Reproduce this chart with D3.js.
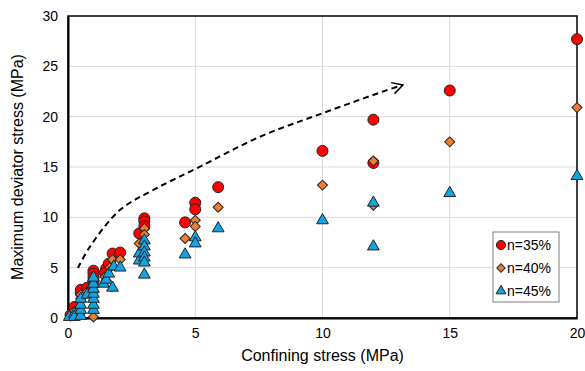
<!DOCTYPE html>
<html>
<head>
<meta charset="utf-8">
<script src="https://cdn.jsdelivr.net/npm/d3@7"></script>
<style>
  body { margin: 0; background: #fff; }
  svg { display: block; font-family: "Liberation Sans", Arial, sans-serif; }
</style>
</head>
<body>
<div id="chart"></div>
<script>
// confining stress (MPa), maximum deviator stress (MPa)
const n35 = [
  [0.1, 0.3], [0.25, 0.9], [0.25, 1.1], [0.5, 2.5], [0.5, 2.8], [0.75, 3.0],
  [1, 4.7], [1, 4.4], [1, 4.0], [1, 3.6], [1.5, 4.9], [1.45, 4.5], [1.6, 5.4],
  [1.75, 6.4], [2.05, 6.5], [2.8, 8.4], [3, 9.9], [3, 9.6], [3, 9.1],
  [4.6, 9.5], [5, 11.45], [5, 10.8], [5.9, 13.0], [10, 16.6], [12, 19.7],
  [12, 15.4], [15, 22.6], [20, 27.7]
];
const n40 = [
  [0.1, 0.2], [0.25, 0.7], [0.5, 0.5], [0.5, 1.9], [0.5, 2.3], [0.75, 2.6],
  [1, 0.1], [1, 3.8], [1, 3.2], [1, 2.6], [1.45, 4.1], [1.5, 3.7], [1.75, 5.8],
  [1.65, 5.0], [2.05, 5.8], [2.8, 7.4], [3, 8.9], [3, 8.3], [3, 7.5],
  [4.6, 7.9], [5, 9.7], [5, 9.1], [5.9, 11.0], [10, 13.2], [12, 15.6],
  [12, 11.2], [15, 17.5], [20, 20.9]
];
const n45 = [
  [0.05, 0.1], [0.25, 0.4], [0.25, 0.1], [0.5, 0.2], [0.5, 0.8], [0.5, 1.3],
  [0.5, 1.9], [0.75, 2.3], [1, 0.8], [1, 1.3], [1, 1.9], [1, 2.4], [1, 2.9],
  [1, 3.4], [1, 4.0], [1.4, 3.4], [1.5, 3.8], [1.6, 4.4], [1.75, 3.0],
  [1.8, 5.1], [2.05, 5.0], [2.8, 5.7], [2.8, 6.4], [3, 7.7], [3, 7.1],
  [3, 6.5], [3, 6.0], [3, 5.5], [3, 4.3], [4.6, 6.3], [5, 8.0], [5, 7.4],
  [5.9, 8.9], [10, 9.7], [12, 11.45], [12, 7.1], [15, 12.4], [20, 14.1]
];
const seriesNames = ['n=35%', 'n=40%', 'n=45%'];
const xTicks = [0, 5, 10, 15, 20];
const yTicks = [0, 5, 10, 15, 20, 25, 30];
// trend arrow (dashed), in data units
const trend = [
  [0.39, 4.97], [0.86, 7.08], [2.04, 10.72], [3.34, 12.71], [5.06, 14.87],
  [7.54, 18.0], [10.02, 20.36], [12.77, 22.84], [13.16, 23.14]
];

const W = 585, H = 371;
const m = { left: 68, right: 8, top: 16, bottom: 53 };

const svg = d3.select('#chart').append('svg')
  .attr('width', W)
  .attr('height', H);

const x = d3.scaleLinear().domain([0, 20]).range([m.left, W - m.right]);
const y = d3.scaleLinear().domain([0, 30]).range([H - m.bottom, m.top]);

// grid
svg.append('g')
  .selectAll('line.vg')
  .data(xTicks.slice(1, -1))
  .enter().append('line')
  .attr('x1', d => x(d)).attr('x2', d => x(d))
  .attr('y1', y(0)).attr('y2', y(30))
  .attr('stroke', '#d9d9d9').attr('stroke-width', 1);

svg.append('g')
  .selectAll('line.hg')
  .data(yTicks.slice(1, -1))
  .enter().append('line')
  .attr('x1', x(0)).attr('x2', x(20))
  .attr('y1', d => y(d)).attr('y2', d => y(d))
  .attr('stroke', '#d9d9d9').attr('stroke-width', 1);

// frame
svg.append('rect')
  .attr('x', x(0)).attr('y', y(30))
  .attr('width', x(20) - x(0)).attr('height', y(0) - y(30))
  .attr('fill', 'none').attr('stroke', '#000').attr('stroke-width', 1.5);

// axes (labels only, no ticks)
const xAxis = svg.append('g')
  .attr('transform', `translate(0,${y(0)})`)
  .call(d3.axisBottom(x).tickValues(xTicks).tickSize(0).tickPadding(10));
xAxis.select('.domain').attr('stroke', '#000').attr('stroke-width', 2);
xAxis.selectAll('text').style('font-size', '14px').attr('fill', '#000')
  .style('font-family', '"Liberation Sans", Arial, sans-serif');

const yAxis = svg.append('g')
  .attr('transform', `translate(${x(0)},0)`)
  .call(d3.axisLeft(y).tickValues(yTicks).tickSize(0).tickPadding(10));
yAxis.select('.domain').attr('stroke', '#000').attr('stroke-width', 2);
yAxis.selectAll('text').style('font-size', '14px').attr('fill', '#000')
  .style('font-family', '"Liberation Sans", Arial, sans-serif');

// axis titles
svg.append('text')
  .attr('x', (x(0) + x(20)) / 2)
  .attr('y', 361)
  .attr('text-anchor', 'middle')
  .style('font-size', '16px')
  .text('Confining stress (MPa)');

svg.append('text')
  .attr('transform', `translate(23,${(y(0) + y(30)) / 2}) rotate(-90)`)
  .attr('text-anchor', 'middle')
  .style('font-size', '16px')
  .text('Maximum deviator stress (MPa)');

// trend arrow
const line = d3.line().x(d => x(d[0])).y(d => y(d[1])).curve(d3.curveCatmullRom);
svg.append('path')
  .attr('d', line(trend))
  .attr('fill', 'none')
  .attr('stroke', '#000')
  .attr('stroke-width', 2)
  .attr('stroke-dasharray', '6,4');

const tip = trend[trend.length - 1];
const prev = trend[trend.length - 2];
const ang = Math.atan2(y(tip[1]) - y(prev[1]), x(tip[0]) - x(prev[0]));
const ah = 12, spread = 0.5;
svg.append('path')
  .attr('d', `M${x(tip[0]) - ah * Math.cos(ang - spread)},${y(tip[1]) - ah * Math.sin(ang - spread)}` +
    `L${x(tip[0])},${y(tip[1])}` +
    `L${x(tip[0]) - ah * Math.cos(ang + spread)},${y(tip[1]) - ah * Math.sin(ang + spread)}`)
  .attr('fill', 'none')
  .attr('stroke', '#000')
  .attr('stroke-width', 1.5);

// markers (diamond = square turned 45°)
const sym = [
  { type: d3.symbolCircle, size: 95, fill: '#ff0000', rot: 0 },
  { type: d3.symbolSquare, size: 50, fill: '#ed7d31', rot: 45 },
  { type: d3.symbolTriangle, size: 60, fill: '#12a3e3', rot: 0 }
];
[n35, n40, n45].forEach((data, i) => {
  svg.append('g')
    .selectAll('path')
    .data(data)
    .enter().append('path')
    .attr('transform', d => `translate(${x(d[0])},${y(d[1])}) rotate(${sym[i].rot})`)
    .attr('d', d3.symbol().type(sym[i].type).size(sym[i].size))
    .attr('fill', sym[i].fill)
    .attr('stroke', '#222')
    .attr('stroke-width', 1);
});

// legend
const lg = svg.append('g').attr('transform', 'translate(493,232)');
lg.append('rect')
  .attr('width', 66).attr('height', 70)
  .attr('fill', '#fff').attr('stroke', '#7f7f7f').attr('stroke-width', 1);
seriesNames.forEach((name, i) => {
  const row = lg.append('g').attr('transform', `translate(0,${13 + i * 23})`);
  row.append('path')
    .attr('transform', `translate(8,0) rotate(${sym[i].rot})`)
    .attr('d', d3.symbol().type(sym[i].type).size(sym[i].size * 0.7))
    .attr('fill', sym[i].fill)
    .attr('stroke', '#222').attr('stroke-width', 1);
  row.append('text')
    .attr('x', 14).attr('y', 5)
    .style('font-size', '14px')
    .text(name);
});
</script>
</body>
</html>
